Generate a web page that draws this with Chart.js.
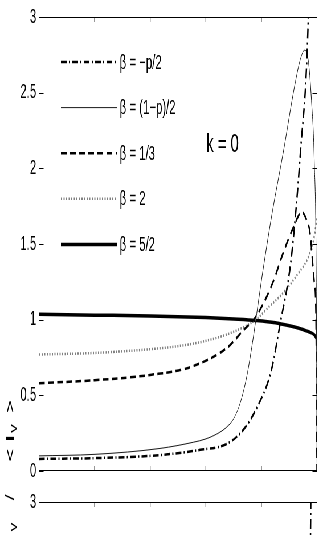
<!DOCTYPE html>
<html><head><meta charset="utf-8">
<script src="https://cdn.jsdelivr.net/npm/chart.js@4.4.1/dist/chart.umd.min.js"></script>
<style>
html,body{margin:0;padding:0;background:#fff;overflow:hidden;width:323px;height:537px;}
#wrap{position:absolute;left:0;top:0;width:567px;height:1100px;transform:scaleX(0.5697);transform-origin:0 0;}
#c1{position:absolute;left:0;top:0;}
#c2{position:absolute;left:0;top:485px;}
</style></head><body>
<div id="wrap"><canvas id="c1" width="567" height="537"></canvas><canvas id="c2" width="567" height="537"></canvas></div>
<script>
// ---- data ----
const legendLabels = ['β = −p/2', 'β = (1−p)/2', 'β = 1/3', 'β = 2', 'β = 5/2'];
const annotation = 'k = 0';
const yTickStep = 0.5;

const xDashDot = [0,0.2,0.435,0.58,0.676,0.734,0.784,0.835,0.87,0.893,0.91,0.94,0.968,0.985];
const yDashDot = [0.08,0.085,0.105,0.14,0.18,0.27,0.42,0.66,1.0,1.22,1.45,2.1,2.96,4.5];

const xThin = [0,0.2,0.435,0.555,0.6,0.64,0.675,0.7,0.723,0.747,0.771,0.783,0.805,0.84,0.878,0.92,0.94,0.955,0.968,0.98,0.99,0.997,1.0];
const yThin = [0.10,0.11,0.149,0.19,0.212,0.245,0.29,0.345,0.446,0.622,0.886,1.04,1.32,1.72,2.1,2.55,2.72,2.78,2.72,2.45,2.05,1.3,0];

const xDashed = [0,0.2,0.4,0.55,0.68,0.73,0.78,0.84,0.88,0.915,0.945,0.96,0.975,0.99,0.996,1.0];
const yDashed = [0.58,0.60,0.635,0.69,0.82,0.92,1.02,1.24,1.45,1.61,1.71,1.67,1.57,1.25,1.05,0];

const xDotted = [0,0.2,0.4,0.5,0.6,0.7,0.78,0.83,0.88,0.93,0.97,0.99,1.0];
const yDotted = [0.77,0.78,0.805,0.825,0.86,0.92,1.0,1.09,1.18,1.3,1.42,1.55,1.68];

const xThick = [0,0.2,0.4,0.6,0.7,0.78,0.85,0.9,0.94,0.97,0.99,1.0];
const yThick = [1.035,1.03,1.025,1.015,1.005,0.995,0.98,0.96,0.94,0.92,0.9,0.87];

const xLower = [0.9,0.95,0.975,0.9785,0.983];
const yLower = [0.6,1.3,2.5,3.2,4.0];

// ---- helpers ----
const FONT = '"Liberation Sans", Arial, Helvetica, sans-serif';
const pts = (xs, ys) => xs.map((x, i) => ({x, y: ys[i]}));
const CA = {left: 68.5, right: 556.5, top: 16, bottom: 471};
const W = 567, H = 537;

function seriesStyle(i){
  return [
    {borderColor:'#000', borderWidth:2.5, borderDash:[10,4,2,4]},
    {borderColor:'#1a1a1a', borderWidth:1, borderDash:[]},
    {borderColor:'#000', borderWidth:2.5, borderDash:[10,6]},
    {borderColor:'#808080', borderWidth:2.5, borderDash:[2,2.5]},
    {borderColor:'#000', borderWidth:3.5, borderDash:[]}
  ][i];
}

const framePlugin = {
  id: 'frame',
  afterDatasetsDraw(chart){
    const {ctx, chartArea:{left,right,top,bottom}, scales:{x,y}} = chart;
    ctx.save();
    ctx.setLineDash([]);
    ctx.lineWidth = 1;
    ctx.strokeStyle = '#000';
    const t = Math.round(top)+0.5, b = Math.round(bottom)-0.5;
    ctx.beginPath();
    ctx.moveTo(left, t); ctx.lineTo(right, t);
    ctx.moveTo(left, b); ctx.lineTo(right, b);
    ctx.moveTo(left, top); ctx.lineTo(left, bottom);
    ctx.moveTo(right, top); ctx.lineTo(right, bottom);
    x.ticks.forEach(tk => {
      const px = x.getPixelForValue(tk.value);
      ctx.moveTo(px, top); ctx.lineTo(px, top+5);
      ctx.moveTo(px, bottom); ctx.lineTo(px, bottom-5);
    });
    y.ticks.forEach(tk => {
      const py = Math.round(y.getPixelForValue(tk.value))+0.5;
      ctx.moveTo(left, py); ctx.lineTo(left+8, py);
      ctx.moveTo(right, py); ctx.lineTo(right-8, py);
    });
    ctx.stroke();
    ctx.restore();
  }
};

const legendPlugin = {
  id: 'mlegend',
  afterDraw(chart){
    const ctx = chart.ctx;
    ctx.save();
    chart.data.datasets.forEach((ds, i) => {
      const yy = 62 + i*45.6;
      ctx.strokeStyle = ds.borderColor;
      ctx.lineWidth = ds.borderWidth;
      ctx.setLineDash(ds.borderDash || []);
      ctx.beginPath(); ctx.moveTo(107, yy); ctx.lineTo(205, yy); ctx.stroke();
      ctx.setLineDash([]);
      ctx.fillStyle = '#000';
      ctx.font = '20px ' + FONT;
      ctx.textBaseline = 'middle';
      ctx.textAlign = 'left';
      ctx.fillText(ds.label, 210, yy+1);
    });
    ctx.font = '26px ' + FONT;
    ctx.textBaseline = 'alphabetic';
    ctx.fillText(annotation, 362, 152);
    // rotated y label pieces
    const pieces = [
      {t:'v', y:527, size:17, base:29},
      {t:'/', y:497.5, size:22, base:24.6},
      {t:'<', y:455, size:22, base:24.6},
      {t:'I', y:438.5, size:22, base:24.6, bold:true},
      {t:'v', y:428.5, size:17, base:29},
      {t:'>', y:406.5, size:22, base:24.6}
    ];
    pieces.forEach(p => {
      ctx.save();
      ctx.translate(p.base, p.y);
      ctx.rotate(-Math.PI/2);
      ctx.font = (p.bold?'bold ':'') + p.size + 'px ' + FONT;
      ctx.textAlign = 'center';
      ctx.textBaseline = 'alphabetic';
      ctx.fillText(p.t, 0, 0);
      ctx.restore();
    });
    ctx.restore();
  }
};

function scalesCfg(){
  return {
    x: {type:'linear', min:0, max:1, position:'bottom',
        ticks:{display:false, stepSize:0.2}, grid:{display:false, drawTicks:false}, border:{display:false},
        afterFit(s){ s.height = H - CA.bottom; }},
    y: {type:'linear', min:0, max:3, position:'left',
        ticks:{stepSize:yTickStep, color:'#000', padding:5, font:{family:FONT, size:20},
               callback:(v) => String(+v.toFixed(2))},
        grid:{display:false, drawTicks:false}, border:{display:false},
        afterFit(s){ s.width = CA.left; }}
  };
}

const baseOpts = {
  responsive:false, animation:false, devicePixelRatio:1,
  layout:{padding:{top:CA.top, right:W-CA.right, left:0, bottom:0}},
  elements:{point:{radius:0}, line:{cubicInterpolationMode:'monotone'}},
  plugins:{legend:{display:false}, tooltip:{enabled:false}}
};

const seriesX = [xDashDot, xThin, xDashed, xDotted, xThick];
const seriesY = [yDashDot, yThin, yDashed, yDotted, yThick];

new Chart(document.getElementById('c1'), {
  type:'line',
  data:{datasets: legendLabels.map((lab, i) => Object.assign({label:lab, data:pts(seriesX[i], seriesY[i]), fill:false}, seriesStyle(i)))},
  options:Object.assign({}, baseOpts, {scales:scalesCfg()}),
  plugins:[framePlugin, legendPlugin]
});

new Chart(document.getElementById('c2'), {
  type:'line',
  data:{datasets:[Object.assign({label:legendLabels[0], data:pts(xLower, yLower), fill:false}, seriesStyle(0))]},
  options:Object.assign({}, baseOpts, {scales:scalesCfg()}),
  plugins:[framePlugin]
});
</script>
</body></html>
